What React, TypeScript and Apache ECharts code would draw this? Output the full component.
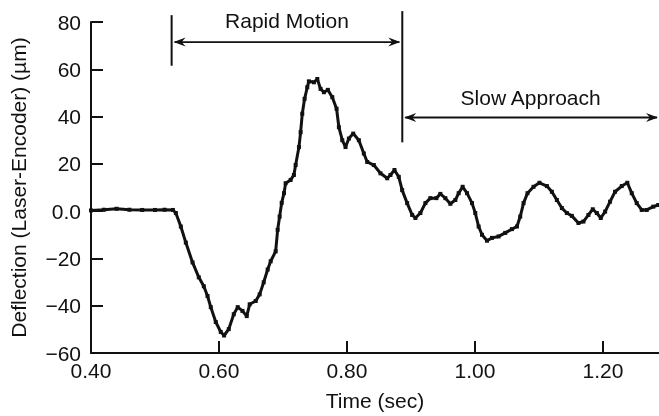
import React, { useEffect, useRef } from "react";
import * as echarts from "echarts";

const timeSec = [
  0.4, 0.42, 0.44, 0.46, 0.48, 0.5, 0.515, 0.528, 0.5326, 0.5404, 0.5482, 0.5587, 0.5685,
  0.5763, 0.5821, 0.5872, 0.595, 0.6028, 0.608, 0.6153, 0.6231, 0.6293, 0.6367, 0.6434,
  0.648, 0.6574, 0.6636, 0.6699, 0.6761, 0.6808, 0.6886, 0.6917, 0.6948, 0.698, 0.7016,
  0.7042, 0.712, 0.7171, 0.7198, 0.725, 0.7276, 0.7302, 0.7338, 0.738, 0.7405, 0.7484,
  0.7537, 0.7588, 0.764, 0.7702, 0.7771, 0.7838, 0.7874, 0.7927, 0.7978, 0.803, 0.8098,
  0.8186, 0.8264, 0.8317, 0.842, 0.8524, 0.8629, 0.868, 0.8743, 0.881, 0.8863, 0.8941,
  0.9019, 0.907, 0.9148, 0.9226, 0.9304, 0.9398, 0.946, 0.9538, 0.9616, 0.9694, 0.9746,
  0.9808, 0.9877, 0.9955, 1.0006, 1.0058, 1.0111, 1.0189, 1.0267, 1.037, 1.0474, 1.0579,
  1.0657, 1.0708, 1.076, 1.0822, 1.0916, 1.1009, 1.1125, 1.1203, 1.1281, 1.1359, 1.1437,
  1.1515, 1.1618, 1.1696, 1.1774, 1.1842, 1.1905, 1.1967, 1.2035, 1.2112, 1.219, 1.2295,
  1.2382, 1.2451, 1.2529, 1.2607, 1.2685, 1.2788, 1.2866,
];
const deflectionUm = [
  0.3, 0.6, 1.0, 0.6, 0.5, 0.5, 0.6, 0.5, -0.8, -6.5, -13.3, -21.7, -28.0,
  -31.8, -35.9, -40.6, -46.9, -51.1, -52.6, -49.9, -43.6, -40.6, -42.2, -44.4,
  -39.4, -38.0, -35.2, -30.1, -24.7, -21.2, -17.0, -7.9, -2.3, 3.5, 7.6,
  11.8, 13.2, 15.3, 19.5, 27.1, 33.4, 41.2, 47.5, 52.4, 54.9, 54.5,
  55.9, 51.7, 50.3, 51.3, 48.2, 43.3, 35.5, 30.0, 27.1, 30.7, 32.8,
  30.0, 24.4, 20.8, 19.5, 16.0, 13.9, 15.3, 17.4, 14.5, 8.9, 3.4,
  -1.6, -2.9, -0.8, 3.4, 5.5, 5.5, 7.3, 5.5, 3.1, 4.7, 7.6,
  10.3, 7.6, 3.4, -0.8, -6.5, -10.0, -12.5, -11.3, -10.7, -9.2, -7.6,
  -6.5, -2.3, 3.4, 7.6, 10.3, 12.0, 10.6, 8.2, 4.7, 1.3, -0.8,
  -2.0, -5.0, -4.4, -1.6, 0.8, -0.8, -2.9, -0.2, 4.0, 8.2, 10.6,
  12.0, 7.6, 3.4, 0.5, 0.5, 1.9, 2.6,
];

const xMin = 0.4;
const xMax = 1.2877;
const yMin = -60;
const yMax = 80;

// annotation anchors (data coordinates)
const rapidStart = 0.526;
const rapidEnd = 0.8865;
const rapidTickTop = 82.9;
const rapidTickBottom = 61.5;
const rapidArrowY = 71.5;
const rapidLabel = "Rapid Motion";
const slowLineTop = 84.6;
const slowLineBottom = 29.1;
const slowArrowY = 39.6;
const slowLabel = "Slow Approach";

const FONT = "'Liberation Sans', Arial, Helvetica, sans-serif";
const INK = "#111";
const FS = 21;

export default function App() {
  const ref = useRef<HTMLDivElement>(null);
  useEffect(() => {
    if (!ref.current) return;
    const chart = echarts.init(ref.current, undefined, { renderer: "svg" });
    const data = timeSec.map((t, i) => [t, deflectionUm[i]]);
    chart.setOption({
      animation: false,
      textStyle: { fontFamily: FONT, color: INK },
      grid: { left: 90, right: 0, top: 22, bottom: 61, containLabel: false },
      xAxis: {
        type: "value",
        min: xMin,
        max: xMax,
        interval: 0.2,
        name: "Time (sec)",
        nameLocation: "middle",
        nameGap: 37,
        nameTextStyle: { fontSize: FS, color: INK, fontFamily: FONT, verticalAlign: "top" },
        axisLine: { show: true, onZero: false, lineStyle: { color: INK, width: 2 } },
        axisTick: { show: true, inside: true, length: 12, lineStyle: { color: INK, width: 2 } },
        splitLine: { show: false },
        axisLabel: {
          fontSize: FS,
          color: INK,
          fontFamily: FONT,
          margin: 7,
          showMaxLabel: false,
          formatter: (v: number) => {
            const k = Math.round(v / 0.2);
            return Math.abs(v - k * 0.2) < 1e-6 ? v.toFixed(2) : "";
          },
        },
      },
      yAxis: {
        type: "value",
        min: yMin,
        max: yMax,
        interval: 20,
        name: "Deflection (Laser-Encoder) (µm)",
        nameLocation: "middle",
        nameGap: 62,
        nameTextStyle: { fontSize: FS, color: INK, fontFamily: FONT },
        axisLine: { show: true, onZero: false, lineStyle: { color: INK, width: 2 } },
        axisTick: { show: true, inside: true, length: 12, lineStyle: { color: INK, width: 2 } },
        splitLine: { show: false },
        axisLabel: {
          fontSize: FS,
          color: INK,
          fontFamily: FONT,
          margin: 10,
          formatter: (v: number) => (v === 0 ? "0.0" : v < 0 ? "\u2212" + Math.abs(v) : String(v)),
        },
      },
      series: [
        {
          type: "line",
          data,
          lineStyle: { color: INK, width: 3 },
          itemStyle: { color: INK },
          symbol: "rect",
          symbolSize: 4,
          showSymbol: true,
          clip: false,
        },
      ],
    });

    const px = (x: number, y: number) => chart.convertToPixel({ gridIndex: 0 }, [x, y]) as number[];
    const head = (tip: number[], dir: number) => ({
      type: "polygon",
      shape: {
        points: [
          [tip[0], tip[1]],
          [tip[0] + dir * 12, tip[1] - 4.5],
          [tip[0] + dir * 8, tip[1]],
          [tip[0] + dir * 12, tip[1] + 4.5],
        ],
      },
      style: { fill: INK },
    });

    const r1t = px(rapidStart, rapidTickTop);
    const r1b = px(rapidStart, rapidTickBottom);
    const s1t = px(rapidEnd, slowLineTop);
    const s1b = px(rapidEnd, slowLineBottom);
    const ra = px(rapidStart, rapidArrowY);
    const rb = px(rapidEnd, rapidArrowY);
    const sa = px(rapidEnd, slowArrowY);
    const sb = px(xMax, slowArrowY);
    const lineStyle = { stroke: INK, lineWidth: 2 };

    chart.setOption({
      graphic: [
        { type: "line", shape: { x1: r1t[0], y1: r1t[1], x2: r1b[0], y2: r1b[1] }, style: lineStyle },
        { type: "line", shape: { x1: s1t[0], y1: s1t[1], x2: s1b[0], y2: s1b[1] }, style: lineStyle },
        { type: "line", shape: { x1: ra[0] + 3, y1: ra[1], x2: rb[0] - 3, y2: rb[1] }, style: { stroke: INK, lineWidth: 1.8 } },
        head([ra[0] + 2, ra[1]], 1),
        head([rb[0] - 2, rb[1]], -1),
        { type: "line", shape: { x1: sa[0] + 3, y1: sa[1], x2: sb[0] - 2, y2: sb[1] }, style: { stroke: INK, lineWidth: 1.8 } },
        head([sa[0] + 2, sa[1]], 1),
        head([sb[0] - 1, sb[1]], -1),
        {
          type: "text",
          x: (ra[0] + rb[0]) / 2,
          y: ra[1] - 22,
          style: { text: rapidLabel, font: `${FS}px ${FONT}`, fill: INK, align: "center", verticalAlign: "middle" },
        },
        {
          type: "text",
          x: (sa[0] + sb[0]) / 2,
          y: sa[1] - 20,
          style: { text: slowLabel, font: `${FS}px ${FONT}`, fill: INK, align: "center", verticalAlign: "middle" },
        },
      ],
    });
    return () => chart.dispose();
  }, []);
  return <div ref={ref} style={{ position: "fixed", left: 0, top: 0, width: 659, height: 416 }} />;
}
